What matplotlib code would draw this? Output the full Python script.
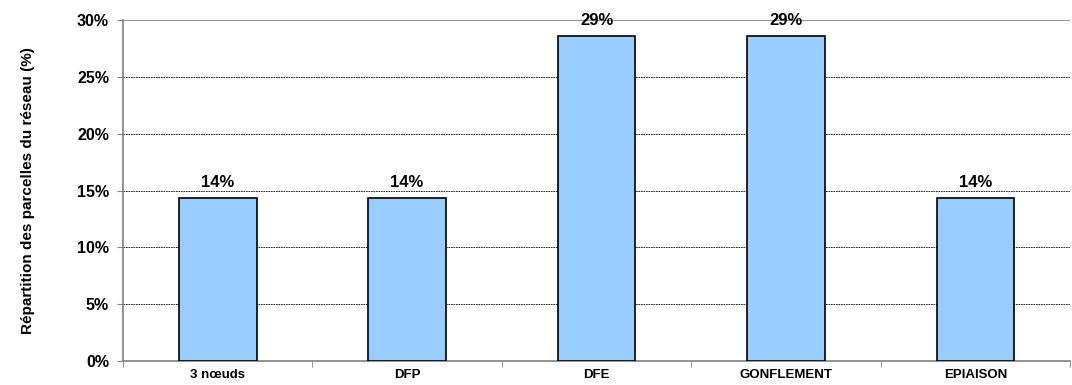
import matplotlib.pyplot as plt
from matplotlib.ticker import FuncFormatter, MultipleLocator

categories = ['3 nœuds', 'DFP', 'DFE', 'GONFLEMENT', 'EPIAISON']
shares = [0.143, 0.143, 0.286, 0.286, 0.143]

plt.rcParams['font.family'] = ['Liberation Sans', 'DejaVu Sans']
plt.rcParams['font.weight'] = 'bold'

fig = plt.figure(figsize=(10.72, 3.85), dpi=100)
ax = fig.add_axes([0.1147, 0.0623, 0.8835, 0.8857])

x = range(len(categories))
bars = ax.bar(x, shares, width=0.41, color='#99ccff', edgecolor='black', linewidth=1.2, zorder=3)

# value labels above bars
for b, v in zip(bars, shares):
    ax.annotate(f'{v * 100:.0f}%', (b.get_x() + b.get_width() / 2, v),
                xytext=(0, 6), textcoords='offset points',
                ha='center', va='bottom', fontsize=12, fontweight='bold', zorder=4)

ax.set_xlim(-0.5, len(categories) - 0.5)
ax.set_ylim(0, 0.30)
ax.yaxis.set_major_locator(MultipleLocator(0.05))
ax.yaxis.set_major_formatter(FuncFormatter(lambda v, p: f'{v * 100:.0f}%'))

# gridlines, dashed, solid at top
for yv in [0.05, 0.10, 0.15, 0.20, 0.25]:
    ax.axhline(yv, color='black', linestyle=(0, (2, 1)), linewidth=0.6, zorder=1)
ax.axhline(0.30, color='#808080', linewidth=1.2, zorder=1)

ax.set_xticks(list(x))
ax.set_xticklabels(categories, fontsize=9.5, fontweight='bold')
ax.set_xticks([i + 0.5 for i in range(-1, len(categories))], minor=True)
ax.tick_params(axis='x', which='major', length=0, pad=6)
ax.tick_params(axis='x', which='minor', length=4, color='#808080', direction='out')
ax.tick_params(axis='y', labelsize=11.5, length=4, color='#808080', pad=6)

for s in ['top', 'right']:
    ax.spines[s].set_visible(False)
for s in ['left', 'bottom']:
    ax.spines[s].set_color('#808080')
    ax.spines[s].set_linewidth(1.2)

ax.set_ylabel('Répartition des parcelles du réseau (%)', fontsize=11, fontweight='bold', labelpad=30)

fig.savefig('out.png', dpi=100)
